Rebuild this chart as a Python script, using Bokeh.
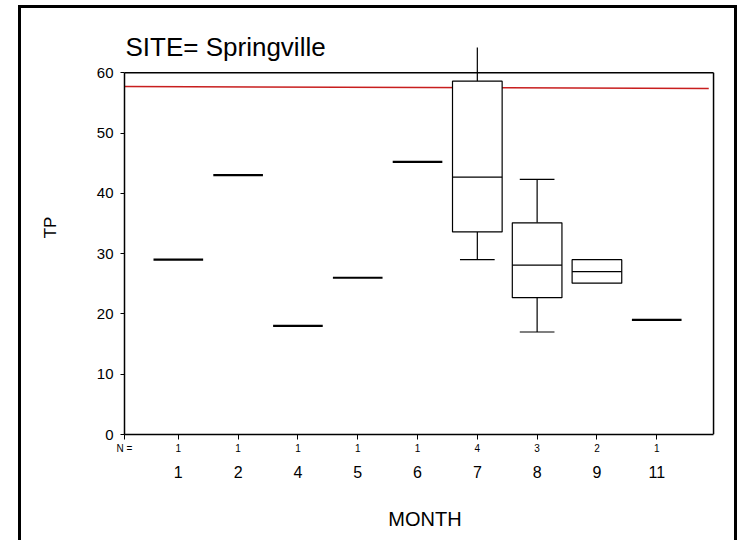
from bokeh.plotting import figure
from bokeh.models import Range1d, FixedTicker, LinearAxis, Label
from bokeh.embed import file_html
from bokeh.resources import INLINE

# ---- data ----
months = ["1", "2", "4", "5", "6", "7", "8", "9", "11"]
counts = [1, 1, 1, 1, 1, 4, 3, 2, 1]
# single-observation months (value drawn as a thick line)
single_months = ["1", "2", "4", "5", "6", "11"]
single_values = [29.0, 43.0, 18.0, 26.0, 45.2, 19.0]
# box-plot months
box_months = ["7", "8", "9"]
box_q1 = [33.6, 22.7, 25.1]
box_med = [42.7, 28.1, 27.0]
box_q3 = [58.6, 35.1, 29.0]
# whiskers
whisk_months = ["7", "8"]
whisk_lo = [29.0, 17.0]
whisk_hi = [64.2, 42.3]
# whisker caps drawn
cap_months = ["7", "8", "8"]
cap_values = [29.0, 17.0, 42.3]
# reference line (left, right)
ref_y = [57.7, 57.4]

# ---- positions ----
pos = {m: i + 1 for i, m in enumerate(months)}
X_LO, X_HI = 0.1, 9.95
BW, CW = 0.83, 0.58

FONT = "Liberation Sans"

p = figure(width=719, height=535, output_backend="svg", toolbar_location=None,
           x_range=Range1d(X_LO, 10.15), y_range=Range1d(0, 68.66),
           min_border_left=103, min_border_right=15, min_border_top=12,
           min_border_bottom=109)
p.margin = (5, 0, 0, 18)
p.styles = {"border-left": "3px solid black", "border-top": "3px solid black",
            "border-right": "3px solid black"}
p.outline_line_color = None
p.grid.visible = False
p.background_fill_color = "white"
p.border_fill_color = "white"

# y axis
ya = p.yaxis[0]
ya.ticker = FixedTicker(ticks=[0, 10, 20, 30, 40, 50, 60])
ya.bounds = (0, 60)
ya.minor_tick_line_color = None
ya.major_tick_in = 0
ya.major_tick_out = 4
ya.major_label_standoff = 7
ya.major_label_text_font = FONT
ya.major_label_text_font_size = "15px"
ya.major_label_text_color = "black"
ya.axis_line_width = 1.5
ya.axis_line_color = "black"
ya.major_tick_line_color = "black"
ya.axis_label = "TP"
ya.axis_label_text_font = FONT
ya.axis_label_text_font_size = "17px"
ya.axis_label_text_font_style = "normal"
ya.axis_label_text_color = "black"
ya.axis_label_standoff = 34

# x axis 1: counts (with "N =" at the left corner)
xa = p.xaxis[0]
xa.ticker = FixedTicker(ticks=[X_LO] + [pos[m] for m in months])
ov = {X_LO: "N ="}
ov.update({pos[m]: str(c) for m, c in zip(months, counts)})
xa.major_label_overrides = ov
xa.bounds = (X_LO, X_HI)
xa.minor_tick_line_color = None
xa.major_tick_in = 0
xa.major_tick_out = 5
xa.major_label_standoff = 3
xa.major_label_text_font = FONT
xa.major_label_text_font_size = "10px"
xa.major_label_text_color = "black"
xa.axis_line_width = 1.5
xa.axis_line_color = "black"
xa.major_tick_line_color = "black"

# x axis 2: month labels
xa2 = LinearAxis(ticker=FixedTicker(ticks=[pos[m] for m in months]),
                 major_label_overrides={pos[m]: m for m in months})
xa2.axis_line_color = None
xa2.major_tick_line_color = None
xa2.minor_tick_line_color = None
xa2.major_label_standoff = 3
xa2.major_label_text_font = FONT
xa2.major_label_text_font_size = "16px"
xa2.major_label_text_color = "black"
xa2.axis_label = "MONTH"
xa2.axis_label_text_font = FONT
xa2.axis_label_text_font_size = "20px"
xa2.axis_label_text_font_style = "normal"
xa2.axis_label_text_color = "black"
xa2.axis_label_standoff = 27
p.add_layout(xa2, "below")

# frame: top and right edges
p.segment(x0=[X_LO], x1=[X_HI], y0=[60], y1=[60], line_color="black", line_width=1.5)
p.segment(x0=[X_HI], x1=[X_HI], y0=[0], y1=[60], line_color="black", line_width=1.5)

# reference line
p.line(x=[X_LO, 9.87], y=ref_y, line_color="#c81e1e", line_width=1.5)

# single values
sx = [pos[m] for m in single_months]
p.segment(x0=[x - BW / 2 for x in sx], x1=[x + BW / 2 for x in sx],
          y0=single_values, y1=single_values, line_color="black", line_width=2.2)

# whiskers
wx = [pos[m] for m in whisk_months]
wq1 = [box_q1[box_months.index(m)] for m in whisk_months]
wq3 = [box_q3[box_months.index(m)] for m in whisk_months]
p.segment(x0=wx, x1=wx, y0=whisk_lo, y1=wq1, line_color="black", line_width=1.2)
p.segment(x0=wx, x1=wx, y0=wq3, y1=whisk_hi, line_color="black", line_width=1.2)
cx = [pos[m] for m in cap_months]
p.segment(x0=[x - CW / 2 for x in cx], x1=[x + CW / 2 for x in cx],
          y0=cap_values, y1=cap_values, line_color="black", line_width=1.2)

# boxes
bx = [pos[m] for m in box_months]
p.quad(left=[x - BW / 2 for x in bx], right=[x + BW / 2 for x in bx],
       bottom=box_q1, top=box_q3, fill_color="white", line_color="black", line_width=1.2)
p.segment(x0=[x - BW / 2 for x in bx], x1=[x + BW / 2 for x in bx],
          y0=box_med, y1=box_med, line_color="black", line_width=1.2)

# title
p.add_layout(Label(x=X_LO, y=64.3, text="SITE= Springville", text_font=FONT,
                   text_font_size="26px", text_color="black",
                   text_baseline="alphabetic", text_align="left", x_offset=1))

open("out.html", "w").write(file_html(p, INLINE))
